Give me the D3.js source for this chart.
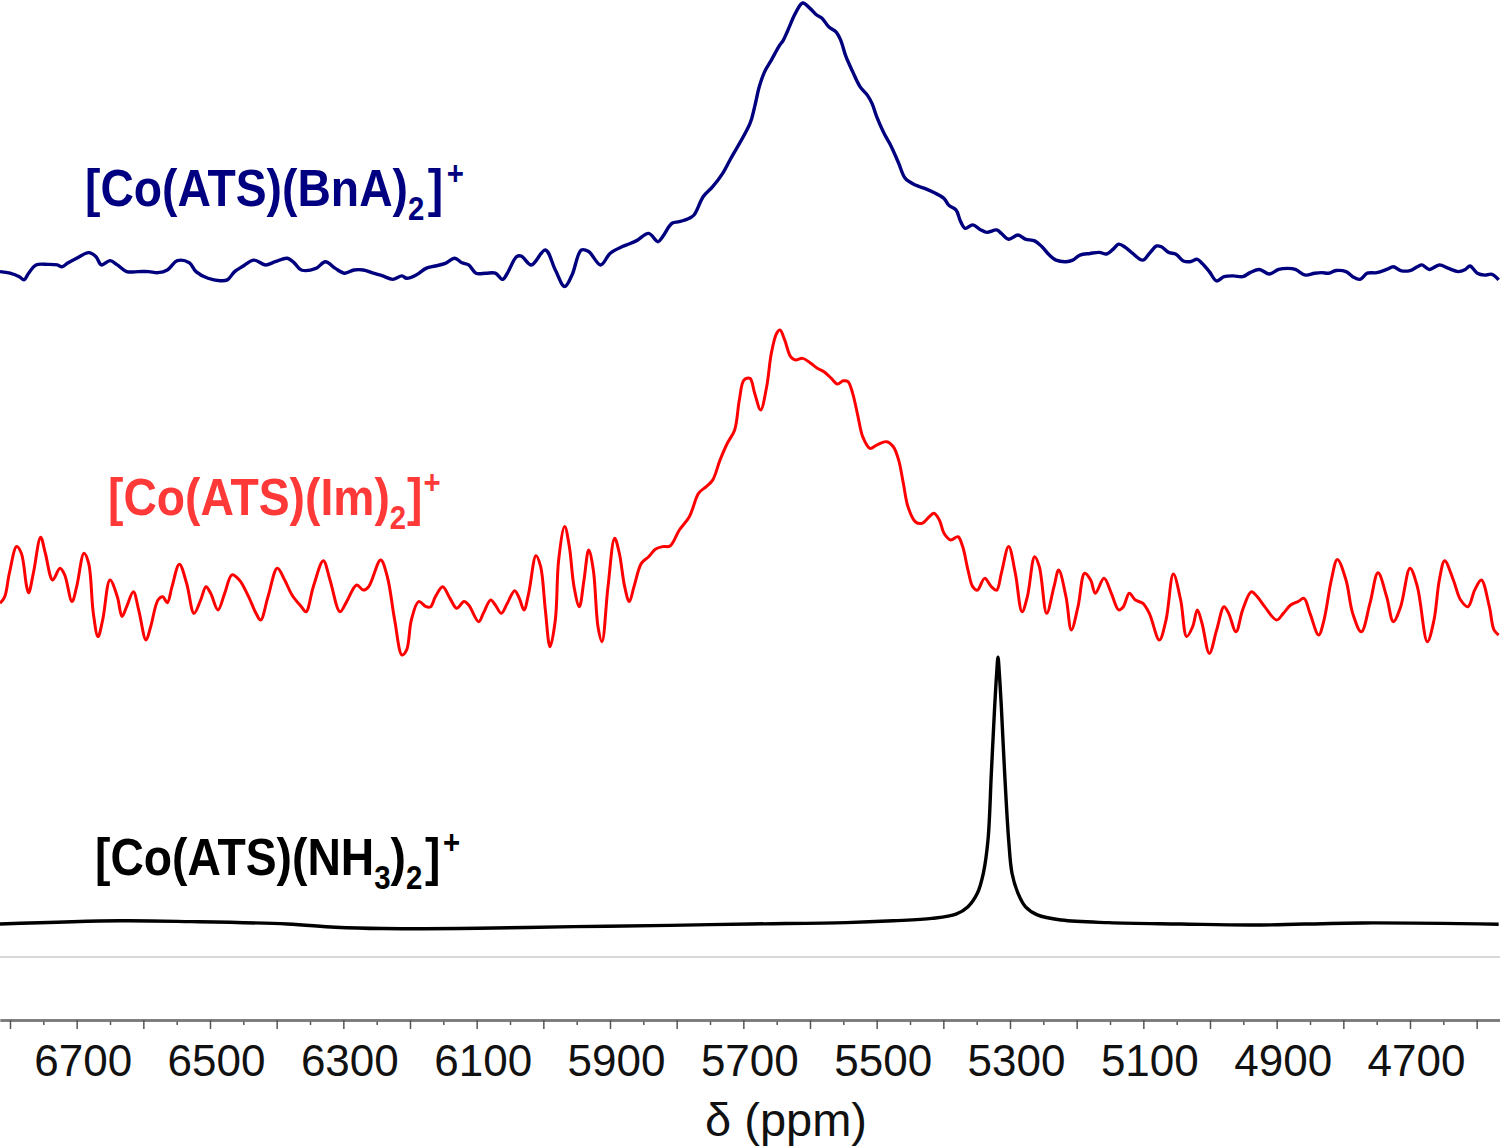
<!DOCTYPE html>
<html><head><meta charset="utf-8">
<script src="https://cdn.jsdelivr.net/npm/d3@7"></script>
<style>
html,body{margin:0;padding:0;background:#fff;}
svg{display:block;}
</style></head><body>
<svg id="chart" width="1500" height="1147"></svg>
<script>
// ---- Data (chemical shift in ppm, normalized intensity in % of max) ----
const blueShift = [
 6815,6800,6786,6779,6772,6761,6743,6729,6722,6714,
 6700,6682,6671,6663,6650,6639,6625,6607,6592,6578,
 6564,6549,6531,6521,6503,6485,6474,6463,6452,6434,
 6417,6402,6384,6373,6363,6341,6327,6312,6298,6284,
 6270,6255,6241,6226,6212,6205,6191,6176,6162,6147,
 6133,6122,6112,6101,6086,6072,6061,6054,6040,6033,
 6018,5997,5982,5968,5957,5943,5932,5914,5900,5882,
 5875,5860,5842,5828,5821,5807,5796,5781,5774,5760,
 5746,5731,5720,
 5690,5683,5676,5668,5658,5647,5640,5633,5622,5611,
 5600,5590,5582,5572,5561,5554,5546,5536,5525,5514,
 5507,5500,5489,5478,5467,5457,5442,5428,5414,5399,
 5392,5381,5374,5367,5356,5345,5335,5320,5313,5302,
 5288,5277,5263,5252,5241,5231,5216,5206,5195,5180,
 5166,5155,5144,5137,5127,5116,5101,5091,5080,5073,
 5062,5051,5040,5030,5019,5012,5001,4990,4979,4965,
 4951,4940,4926,4911,4897,4883,4872,4857,4843,4832,
 4822,4811,4796,4786,4775,4764,4750,4735,4725,4714,
 4700,4689,4682,4671,4656,4642,4628,4617,4610,4599,
 4588,4577,4567];
const blueIntensity = [
 -0.6,-1.2,-2.5,-3.7,-1.2,1.9,2.1,1.9,1.2,2.5,
 4.4,6.5,5.0,1.9,3.5,1.9,-0.6,-0.6,-0.6,-1.0,
 0,3.5,2.7,-0.6,-3.1,-4.0,-3.7,-0.6,1.2,3.7,
 1.9,3.1,4.4,2.5,0,0.6,3.1,0.6,-1.2,0,
 0,-1.2,-2.2,-3.5,-2.2,-3.1,-1.9,0.6,1.5,2.5,
 4.4,2.7,1.9,-1.2,-1.2,-1.2,-3.5,-1.2,5.0,5.2,
 1.9,7.5,0,-6.2,-1.9,7.5,6.9,1.9,6.2,8.7,
 9.4,11.0,13.7,10.6,12.5,17.5,18.1,19.4,20.6,27.5,
 31.2,36.2,41.2,
 54.9,61.2,68.7,74.3,78.6,83.6,86.1,89.9,96.1,100,
 98.0,95.5,94.3,91.1,89.2,86.1,79.9,74.3,68.7,65.5,
 62.4,57.4,51.2,46.2,40.0,34.3,31.8,30.6,29.0,26.8,
 24.3,22.5,18.1,15.6,16.9,15.2,14.1,15.0,13.7,11.5,
 13.1,11.6,10.9,8.7,5.6,3.7,3.1,3.7,5.6,6.2,
 6.6,6.0,8.1,9.7,8.5,6.2,3.7,6.2,9.0,8.7,
 6.6,5.9,3.4,3.1,4.0,2.5,-0.6,-4.1,-2.5,-2.2,
 -2.5,-1.0,0.2,-1.5,0.2,0.6,0.2,-1.9,-1.2,-1.0,
 -1.2,-0.2,-0.6,-2.5,-3.5,-1.2,-1.0,0.2,1.2,-0.2,
 -0.2,1.2,1.9,0.2,1.9,0.6,-0.6,0.2,1.5,-1.2,
 -1.9,-1.6,-3.7];

const redShift = [
 6815,6808,6801,6790,6783,6775,6772,6765,6754,6747,
 6736,6725,6718,6707,6700,6689,6682,6675,6668,6661,
 6650,6639,6632,6625,6615,6607,6596,6589,6578,6571,
 6564,6557,6546,6535,6524,6514,6506,6499,6488,6478,
 6467,6456,6442,6431,6424,6413,6399,6388,6377,6363,
 6356,6345,6330,6320,6305,6295,6280,6270,6262,6244,
 6234,6223,6212,6205,6198,6187,6176,6169,6162,6151,
 6140,6130,6119,6112,6097,6090,6079,6072,6063,6054,
 6043,6036,6029,6022,6011,6004,5997,5990,5982,5977,
 5968,5961,5954,5946,5939,5932,5925,5918,5912,5903,
 5893,5886,5878,5871,5864,5853,5842,5832,5821,5810,
 5796,5781,5767,5756,5746,5735,5724,5713,5706,5699,
 5690,5683,5674,5665,5658,5650,5645,5638,5629,5622,
 5611,5600,5589,5579,5568,5559,5550,5543,5536,5528,
 5521,5510,5500,5485,5475,5467,5460,5453,5442,5432,
 5421,5414,5406,5399,5389,5378,5371,5363,5356,5349,
 5338,5328,5320,5313,5302,5292,5282,5274,5263,5256,
 5245,5234,5227,5216,5208,5198,5188,5179,5172,5159,
 5148,5137,5130,5121,5112,5101,5091,5076,5066,5055,
 5044,5035,5026,5019,5012,5001,4990,4979,4972,4961,
 4951,4938,4929,4918,4900,4890,4879,4868,4859,4850,
 4837,4829,4818,4809,4796,4786,4773,4760,4748,4735,
 4725,4714,4700,4689,4674,4664,4656,4648,4635,4624,
 4613,4603,4593,4581,4574,4567];
const redIntensity = [
 -1.2,1.2,10.0,20.0,17.5,5.0,2.7,10.0,23.5,17.5,
 7.5,11.9,9.4,-0.6,5.0,17.5,13.7,-5.0,-13.7,-7.5,
 7.5,1.2,-6.2,-2.5,3.1,-3.7,-15.0,-10.0,0,1.2,
 -1.0,5.0,13.4,6.2,-5.0,0,5.0,2.5,-3.7,2.5,
 9.4,7.5,1.2,-5.0,-7.5,1.2,11.9,7.5,1.9,-2.5,
 -4.4,5.0,14.7,7.5,-4.4,-0.6,5.6,3.7,5.0,15.0,
 8.7,-7.5,-20.6,-18.7,-7.5,-0.6,-2.5,-2.5,1.2,5.0,
 0.6,-3.1,-0.6,-1.9,-8.1,-5.0,0,-1.9,-5.0,-1.2,
 3.5,0.6,-3.7,2.5,16.6,12.5,-3.7,-17.5,-7.5,15.0,
 27.5,20.0,5.0,-2.5,7.5,18.7,11.2,-10.0,-15.6,5.0,
 23.1,17.5,5.0,-0.6,5.0,13.7,16.2,19.0,20.0,20.2,
 26.2,31.2,40.0,42.4,44.9,52.4,58.7,63.7,74.9,82.4,
 83.0,77.4,71.2,79.9,92.4,99.9,101.1,97.4,91.1,89.9,
 90.5,88.9,86.8,85.5,83.0,80.9,82.1,81.8,77.4,68.7,
 61.2,56.8,58.0,59.3,57.4,52.4,43.7,34.9,29.3,28.7,
 31.2,32.5,30.0,25.0,22.5,23.7,20.0,11.2,5.0,3.7,
 8.1,5.0,3.7,10.0,20.0,10.0,-4.4,1.2,16.2,12.5,
 -5.0,5.0,11.2,1.2,-11.2,-2.5,10.0,7.5,2.5,8.1,
 2.5,-3.7,-2.5,2.5,0,-1.2,-5.0,-15.0,-7.5,9.7,
 0,-13.7,-10.0,-3.7,-8.7,-20.0,-11.2,-2.5,-5.0,-11.9,
 -3.7,3.1,1.2,-2.5,-7.5,-5.0,-1.9,-0.6,0.6,-5.0,
 -13.1,-7.5,7.5,15.2,7.5,-5.0,-11.9,-1.2,10.2,1.2,
 -8.1,-2.5,11.9,5.0,-15.6,-7.5,7.5,14.7,7.5,0,
 -2.5,3.7,7.5,-2.5,-11.2,-13.1];

const blackShift = [
 6815,6635,6528,6384,6312,6241,6097,5954,5810,5690,
 5546,5475,5417,5381,5363,5349,5340,5333,5328,5323,
 5320,5318,5316,5313,5308,5302,5297,5288,5277,5259,
 5223,5152,5044,4936,4771,4567];
const blackIntensity = [
 0,1.2,0.9,0,-1.2,-1.7,-1.6,-1.0,-0.5,0,
 0.5,1.2,2.1,3.7,6.5,11.5,19.0,31.5,56.4,81.4,
 93.9,99.9,93.9,81.4,56.4,31.5,19.0,11.5,6.5,3.4,
 1.5,0.5,0,-0.4,0.4,-0.1];

const majorTicks = [6800,6700,6600,6500,6400,6300,6200,6100,6000,5900,5800,5700,5600,5500,5400,5300,5200,5100,5000,4900,4800,4700,4600];
const minorTicks = [6750,6650,6550,6450,6350,6250,6150,6050,5950,5850,5750,5650,5550,5450,5350,5250,5150,5050,4950,4850,4750,4650];
const tickLabels = [6700,6500,6300,6100,5900,5700,5500,5300,5100,4900,4700];
const axisTitle = "δ (ppm)";

// ---- Layout ----
const W = 1500, H = 1147;
const svg = d3.select("#chart");
const x = d3.scaleLinear().domain([6815, 4565]).range([0, W]);
const peakPx = 267;
const FONT = "'Liberation Sans', Arial, sans-serif";

const traces = [
  {shift: blueShift, inten: blueIntensity, color: "#00007f", base: 270, sw: 3.4,
   label: [["[Co(ATS)(BnA)",0],["2","sub"],["]",0],["+","sup"]], lx: 85, ly: 205.5, lcolor: "#000080", gap: 4},
  {shift: redShift, inten: redIntensity, color: "#ff0000", base: 600, sw: 3,
   label: [["[Co(ATS)(Im)",0],["2","sub"],["]",0],["+","sup"]], lx: 108, ly: 515, lcolor: "#ff3838", gap: 1},
  {shift: blackShift, inten: blackIntensity, color: "#000000", base: 924, sw: 3.4,
   label: [["[Co(ATS)(NH",0],["3","sub"],[")",0],["2","sub"],["]",0],["+","sup"]], lx: 95, ly: 875, lcolor: "#000000", gap: 3}
];

// light grey reference line
svg.append("line").attr("x1", 0).attr("x2", W).attr("y1", 957).attr("y2", 957)
  .attr("stroke", "#d9d9d9").attr("stroke-width", 2);

traces.forEach(t => {
  const y = d3.scaleLinear().domain([0, 100]).range([t.base, t.base - peakPx]);
  const pts = d3.zip(t.shift, t.inten);
  const line = d3.line().x(d => x(d[0])).y(d => y(d[1])).curve(d3.curveCatmullRom.alpha(0.5));
  svg.append("path").datum(pts).attr("d", line)
    .attr("fill", "none").attr("stroke", t.color).attr("stroke-width", t.sw)
    .attr("stroke-linejoin", "round");

  const fs = 52, small = 33;
  const g = svg.append("g").attr("transform", `translate(${t.lx},${t.ly}) scale(0.89,1)`);
  const txt = g.append("text").attr("x", 0).attr("y", 0)
    .attr("font-family", FONT)
    .attr("font-weight", "bold").attr("font-size", fs).attr("fill", t.lcolor);
  let cur = 0;
  t.label.forEach(([s, kind], i) => {
    const ts = txt.append("tspan").text(s);
    let target = 0, size = fs;
    if (kind === "sub") { target = 14; size = small; }
    if (kind === "sup") { target = -21; size = small; }
    ts.attr("dy", target - cur).attr("font-size", size);
    if (i > 0 && (s === "]" || kind === "sup")) ts.attr("dx", t.gap);
    cur = target;
  });
});

// ---- Axis ----
const axisY = 1020;
const gMinor = svg.append("g").attr("transform", `translate(0,${axisY})`)
  .call(d3.axisBottom(x).tickValues(minorTicks).tickSize(5).tickSizeOuter(0).tickFormat(""));
const gMajor = svg.append("g").attr("transform", `translate(0,${axisY})`)
  .call(d3.axisBottom(x).tickValues(majorTicks).tickSize(9).tickSizeOuter(0).tickPadding(16)
    .tickFormat(d => tickLabels.includes(d) ? String(d) : ""));
[gMinor, gMajor].forEach(g => {
  g.select(".domain").attr("stroke", "#7a7a7a").attr("stroke-width", 2.5);
  g.selectAll(".tick line").attr("stroke", "#555").attr("stroke-width", 1.5);
});
gMajor.selectAll(".tick text")
  .attr("font-family", FONT)
  .attr("font-size", 44).attr("fill", "#111").attr("dx", 6);

svg.append("text").attr("x", 786).attr("y", 1136).attr("text-anchor", "middle")
  .attr("font-family", FONT)
  .attr("font-size", 47).attr("fill", "#111").text(axisTitle);
</script>
</body></html>
